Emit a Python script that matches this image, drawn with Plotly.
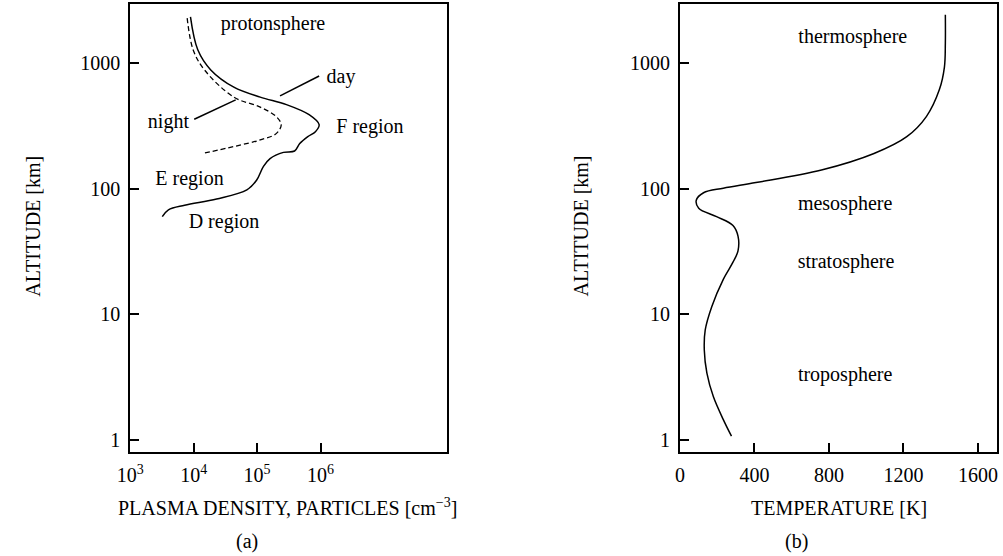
import plotly.graph_objects as go

# ---- data: plasma density (cm^-3) vs altitude (km) ----
day_density = [8.9e3, 1.16e4, 1.86e4, 4.3e4, 1.12e5, 2.9e5, 6.6e5, 9.5e5, 8.3e5, 6.3e5,
               4.7e5, 3.9e5, 2.6e5, 1.6e5, 1.26e5, 9.8e4, 6.9e4, 2.3e4, 7.2e3, 4.0e3, 3.2e3]
day_altitude = [2340, 1280, 885, 645, 537, 468, 389, 324, 285, 260,
                229, 200, 195, 174, 151, 117, 98, 83, 74, 68, 60]

night_density = [7.9e3, 9.8e3, 1.48e4, 4.3e4, 1.12e5, 2.0e5, 2.4e5, 2.0e5, 1.12e5, 4.3e4, 1.38e4]
night_altitude = [2290, 1280, 885, 537, 447, 376, 324, 275, 245, 217, 191]

# ---- data: temperature (K) vs altitude (km) ----
temperature = [1425, 1425, 1420, 1393, 1323, 1218, 1042, 760, 408, 233, 127, 88, 101, 197,
               285, 312, 312, 285, 233, 171, 136, 131, 145, 180, 233, 277]
temp_altitude = [2430, 1445, 933, 617, 376, 260, 191, 141, 112, 101, 93, 81, 70, 60,
                 51, 42, 32, 26, 19, 11.5, 7.5, 5.2, 3.4, 2.2, 1.45, 1.07]

# ---- labels / leaders ----
left_labels = ["protonsphere", "day", "night", "F region", "E region", "D region"]
left_label_x = [1.78e5, 2.1e6, 4.0e3, 6.0e6, 8.6e3, 3.0e4]
left_label_y = [2020, 764, 337, 307, 118, 53]
day_leader_x = [2.3e5, 9.5e5]
day_leader_y = [550, 792]
night_leader_x = [1.02e4, 4.6e4]
night_leader_y = [358, 511]

right_labels = ["thermosphere", "mesosphere", "stratosphere", "troposphere"]
right_label_x = [928, 887, 892, 887]
right_label_y = [1580, 74.5, 25.6, 3.2]

alt_ticks = [1, 10, 100, 1000]
alt_ticktext = ["1", "10", "100", "1000"]
dens_ticks = [1e3, 1e4, 1e5, 1e6]
dens_ticktext = ["10<sup>3</sup>", "10<sup>4</sup>", "10<sup>5</sup>", "10<sup>6</sup>"]
temp_ticks = [0, 400, 800, 1200, 1600]
temp_ticktext = ["0", "400", "800", "1200", "1600"]

FONT = "Liberation Serif, Times New Roman, serif"
FS = 20
W, H = 1003, 556

fig = go.Figure()
line = dict(color="black", width=1.5)

fig.add_trace(go.Scatter(x=day_density, y=day_altitude, mode="lines",
                         line=dict(color="black", width=1.5, shape="spline", smoothing=1.0),
                         xaxis="x", yaxis="y", hoverinfo="skip"))
fig.add_trace(go.Scatter(x=night_density, y=night_altitude, mode="lines",
                         line=dict(color="black", width=1.3, shape="spline", smoothing=1.0,
                                   dash="5px,3px"),
                         xaxis="x", yaxis="y", hoverinfo="skip"))
fig.add_trace(go.Scatter(x=day_leader_x, y=day_leader_y, mode="lines", line=line,
                         xaxis="x", yaxis="y", hoverinfo="skip"))
fig.add_trace(go.Scatter(x=night_leader_x, y=night_leader_y, mode="lines", line=line,
                         xaxis="x", yaxis="y", hoverinfo="skip"))
fig.add_trace(go.Scatter(x=left_label_x, y=left_label_y, mode="text", text=left_labels,
                         textposition="middle center",
                         textfont=dict(family=FONT, size=FS, color="black"),
                         xaxis="x", yaxis="y", hoverinfo="skip"))

fig.add_trace(go.Scatter(x=temperature, y=temp_altitude, mode="lines",
                         line=dict(color="black", width=1.5, shape="spline", smoothing=1.0),
                         xaxis="x2", yaxis="y2", hoverinfo="skip"))
fig.add_trace(go.Scatter(x=right_label_x, y=right_label_y, mode="text", text=right_labels,
                         textposition="middle center",
                         textfont=dict(family=FONT, size=FS, color="black"),
                         xaxis="x2", yaxis="y2", hoverinfo="skip"))

ydom = [1 - 452 / H, 1 - 4 / H]
common = dict(showline=True, linecolor="black", linewidth=2, mirror=True,
              ticks="inside", ticklen=9, tickwidth=1.5, tickcolor="black",
              showgrid=False, zeroline=False,
              tickfont=dict(family=FONT, size=FS, color="black"))

fig.update_layout(
    width=W, height=H,
    margin=dict(l=0, r=0, t=0, b=0),
    paper_bgcolor="white", plot_bgcolor="white",
    showlegend=False,
    font=dict(family=FONT, size=FS, color="black"),
    xaxis=dict(domain=[118 / W, 440 / W], type="log", range=[3, 8],
               tickvals=dens_ticks, ticktext=dens_ticktext, anchor="y",
               ticklabelstandoff=4, **common),
    yaxis=dict(domain=ydom, type="log", range=[-0.097, 3.472],
               tickvals=alt_ticks, ticktext=alt_ticktext, anchor="x",
               ticklabelstandoff=4, **common),
    xaxis2=dict(domain=[676 / W, 997.5 / W], range=[0, 1700],
                tickvals=temp_ticks, ticktext=temp_ticktext, anchor="y2",
                ticklabelstandoff=4, **common),
    yaxis2=dict(domain=ydom, type="log", range=[-0.097, 3.472],
                tickvals=alt_ticks, ticktext=alt_ticktext, anchor="x2",
                ticklabelstandoff=4, **common),
)

def ann(text, px, py, angle=0):
    fig.add_annotation(text=text, x=px / W, y=1 - py / H, xref="paper", yref="paper",
                       xanchor="center", yanchor="middle", showarrow=False,
                       textangle=angle, font=dict(family=FONT, size=FS, color="black"))

ann("ALTITUDE [km]", 19, 226, -90)
ann("ALTITUDE [km]", 576, 226, -90)
ann("PLASMA DENSITY, PARTICLES [cm<sup>−3</sup>]", 278, 507)
ann("TEMPERATURE [K]", 838, 508)
ann("(a)", 237, 541)
ann("(b)", 794, 541)

fig.write_html("out.html")
